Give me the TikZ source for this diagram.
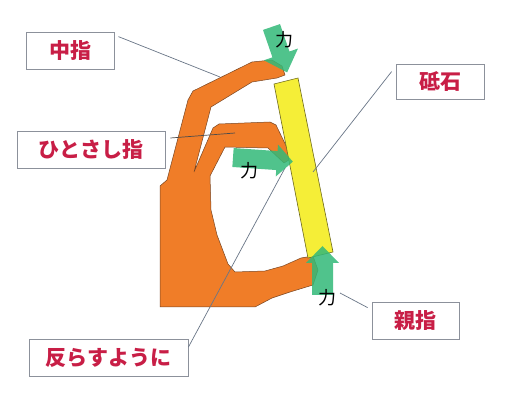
\documentclass[tikz,border=0pt]{standalone}
\usepackage{fontspec}
\newfontfamily\jp{Noto Sans CJK JP}
\definecolor{handorange}{RGB}{240,125,40}
\definecolor{handedge}{RGB}{120,70,35}
\definecolor{stoneyellow}{RGB}{245,238,55}
\definecolor{stoneedge}{RGB}{110,105,30}
\definecolor{forcegreen}{RGB}{50,185,120}
\definecolor{labelred}{RGB}{200,30,70}
\definecolor{boxedge}{RGB}{140,145,155}
\definecolor{leader}{RGB}{105,118,135}
\tikzset{
  labelbox/.style={draw=boxedge, line width=0.8pt, fill=white, minimum height=37pt,
    inner sep=0pt, text=labelred, font=\jp\bfseries\fontsize{21}{21}\selectfont},
  leaderline/.style={draw=leader, line width=0.7pt},
  forcearrow/.style={fill=forcegreen, fill opacity=0.85, draw=none},
  forcetext/.style={font=\jp\fontsize{18}{18}\selectfont, text=black, inner sep=0pt}
}
\begin{document}
\begin{tikzpicture}[x=1pt, y=-1pt]
\useasboundingbox (0,0) rectangle (523,393);
\fill[white] (0,0) rectangle (523,393);

% hand: palm, middle finger, index finger and thumb as one outline
\filldraw[fill=handorange, draw=handedge, line width=0.5pt, line join=round]
  (160,307) -- (160,186) -- (167,180) -- (188,100) -- (193,91) -- (252,62)
  -- (272,60) -- (282,66) -- (285,75) -- (277,78) -- (252,82) -- (211,107)
  -- (194,172) -- (213,128) -- (219,124) -- (270,122) -- (276,125)
  -- (292,158) -- (284,163) -- (268,148) -- (225,147) -- (210,176)
  -- (211,210) -- (217,235) -- (228,264) -- (235,272) -- (265,271)
  -- (283,266) -- (301,258) -- (313,256) -- (318,270) -- (313,285)
  -- (290,292) -- (272,298) -- (255,307) -- cycle;

% whetstone
\filldraw[fill=stoneyellow, draw=stoneedge, line width=0.6pt]
  (274,84) -- (298,78) -- (333,252) -- (308,258) -- cycle;

% labels
\node[labelbox, minimum width=88pt]  (mid)   at (70,50.5)  {中指};
\node[labelbox, minimum width=148pt] (idx)   at (91,150)   {ひとさし指};
\node[labelbox, minimum width=159pt] (bend)  at (108.5,358){反らすように};
\node[labelbox, minimum width=88pt, minimum height=35pt] (stone) at (440,81.5) {砥石};
\node[labelbox, minimum width=87pt]  (thumb) at (415.5,320.5) {親指};

% leader end points on the drawing
\coordinate (midP)   at (220,77);
\coordinate (idxP)   at (235,133);
\coordinate (stoneP) at (313,172);
\coordinate (thumbP) at (340,293);
\coordinate (bendP)  at (285,168);

\draw[leaderline] ([shift={(4,5)}]mid.north east) -- (midP);
\draw[leaderline, draw=black!70] ([shift={(5,-12)}]idx.east) -- (idxP);
\draw[leaderline] ([shift={(-4,8)}]stone.north west) -- (stoneP);
\draw[leaderline] ([shift={(-4,6)}]thumb.north west) -- (thumbP);
\draw[leaderline] ([shift={(0,8)}]bend.north east) -- (bendP);

% force arrows (local frame: tail at origin, pointing along +x)
\begin{scope}[shift={(271.5,27)}, rotate=-71]
  \fill[forcearrow] (0,-9) -- (29,-9) -- (29,-18) -- (48,0) -- (29,18) -- (29,9) -- (0,9) -- cycle;
\end{scope}
\begin{scope}[shift={(233,157.5)}, rotate=-4]
  \fill[forcearrow] (0,-9.5) -- (44,-9.5) -- (44,-16) -- (60,0) -- (44,16) -- (44,9.5) -- (0,9.5) -- cycle;
\end{scope}
\begin{scope}[shift={(322.5,295)}, rotate=90]
  \fill[forcearrow] (0,-10.5) -- (32,-10.5) -- (32,-16.5) -- (49,0) -- (32,16.5) -- (32,10.5) -- (0,10.5) -- cycle;
\end{scope}

\node[forcetext] (f1) at (284,40)  {力};
\node[forcetext] (f2) at (249,171) {力};
\node[forcetext] (f3) at (327,298) {力};
\end{tikzpicture}
\end{document}
